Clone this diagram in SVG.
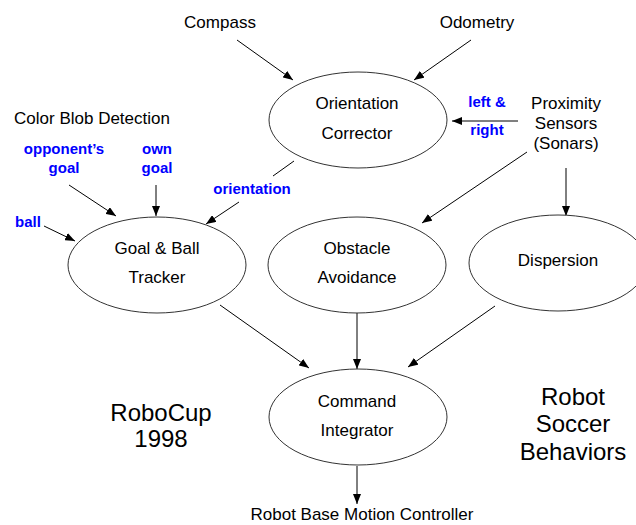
<svg xmlns="http://www.w3.org/2000/svg" width="636" height="525" viewBox="0 0 636 525">
  <style>
    .bg { fill: #ffffff; }
    .node { fill: #ffffff; stroke: #333333; stroke-width: 1; }
    .lbl { font-family: "Liberation Sans", Arial, sans-serif; font-size: 17px; fill: #000000; text-anchor: middle; }
    .big { font-family: "Liberation Sans", Arial, sans-serif; font-size: 24px; fill: #000000; text-anchor: middle; }
    .sig { font-family: "Liberation Sans", Arial, sans-serif; font-size: 15px; font-weight: bold; fill: #0000ff; text-anchor: middle; }
    .edge { stroke: #000000; stroke-width: 1; fill: none; }
  </style>
  <defs>
    <marker id="head" viewBox="0 0 10 8" markerWidth="10" markerHeight="8" refX="10" refY="4" orient="auto" markerUnits="userSpaceOnUse">
      <path d="M0,0 L10,4 L0,8 z" fill="#000000"/>
    </marker>
  </defs>

  <rect class="bg" x="0" y="0" width="636" height="525"/>

  <!-- sensor sources -->
  <text class="lbl" x="220" y="28">Compass</text>
  <text class="lbl" x="477" y="28">Odometry</text>
  <text class="lbl" x="566" y="109">Proximity</text>
  <text class="lbl" x="566" y="129">Sensors</text>
  <text class="lbl" x="566" y="149">(Sonars)</text>
  <text class="lbl" x="92" y="124">Color Blob Detection</text>

  <!-- connectors -->
  <g id="connectors">
    <line class="edge" x1="237" y1="40" x2="293" y2="80" marker-end="url(#head)"/>
    <line class="edge" x1="471" y1="40" x2="414" y2="80" marker-end="url(#head)"/>
    <line class="edge" x1="518" y1="121" x2="452" y2="121" marker-end="url(#head)"/>
    <line class="edge" x1="294" y1="161" x2="273" y2="176"/>
    <line class="edge" x1="239" y1="202" x2="206" y2="224" marker-end="url(#head)"/>
    <line class="edge" x1="69" y1="185" x2="116" y2="216" marker-end="url(#head)"/>
    <line class="edge" x1="156" y1="185" x2="156" y2="216" marker-end="url(#head)"/>
    <line class="edge" x1="44" y1="226" x2="75" y2="241" marker-end="url(#head)"/>
    <line class="edge" x1="527" y1="152" x2="422" y2="223" marker-end="url(#head)"/>
    <line class="edge" x1="566" y1="168" x2="566" y2="216" marker-end="url(#head)"/>
    <line class="edge" x1="220" y1="305" x2="309" y2="368" marker-end="url(#head)"/>
    <line class="edge" x1="357" y1="313" x2="357" y2="369" marker-end="url(#head)"/>
    <line class="edge" x1="495" y1="306" x2="408" y2="367" marker-end="url(#head)"/>
    <line class="edge" x1="357" y1="466" x2="357" y2="504" marker-end="url(#head)"/>
  </g>

  <!-- signal labels -->
  <text class="sig" x="487" y="107">left &amp;</text>
  <text class="sig" x="487" y="135">right</text>
  <text class="sig" x="64" y="154">opponent’s</text>
  <text class="sig" x="64" y="173">goal</text>
  <text class="sig" x="157" y="154">own</text>
  <text class="sig" x="157" y="173">goal</text>
  <text class="sig" x="252" y="194">orientation</text>
  <text class="sig" x="28" y="227">ball</text>

  <!-- behaviour nodes -->
  <g id="orientation-corrector">
    <ellipse class="node" cx="358" cy="120" rx="89" ry="48"/>
    <text class="lbl" x="357" y="109">Orientation</text>
    <text class="lbl" x="357" y="139">Corrector</text>
  </g>
  <g id="goal-ball-tracker">
    <ellipse class="node" cx="157" cy="265" rx="89" ry="48"/>
    <text class="lbl" x="157" y="254">Goal &amp; Ball</text>
    <text class="lbl" x="157" y="283">Tracker</text>
  </g>
  <g id="obstacle-avoidance">
    <ellipse class="node" cx="357" cy="265" rx="89" ry="48"/>
    <text class="lbl" x="357" y="254">Obstacle</text>
    <text class="lbl" x="357" y="283">Avoidance</text>
  </g>
  <g id="dispersion">
    <ellipse class="node" cx="558" cy="263" rx="89" ry="48"/>
    <text class="lbl" x="558" y="266">Dispersion</text>
  </g>
  <g id="command-integrator">
    <ellipse class="node" cx="358" cy="417" rx="89" ry="48"/>
    <text class="lbl" x="357" y="407">Command</text>
    <text class="lbl" x="357" y="436">Integrator</text>
  </g>

  <!-- output and titles -->
  <text class="lbl" x="362" y="520">Robot Base Motion Controller</text>
  <text class="big" x="161" y="421">RoboCup</text>
  <text class="big" x="161" y="447">1998</text>
  <text class="big" x="573" y="405">Robot</text>
  <text class="big" x="573" y="432">Soccer</text>
  <text class="big" x="573" y="460">Behaviors</text>
</svg>
